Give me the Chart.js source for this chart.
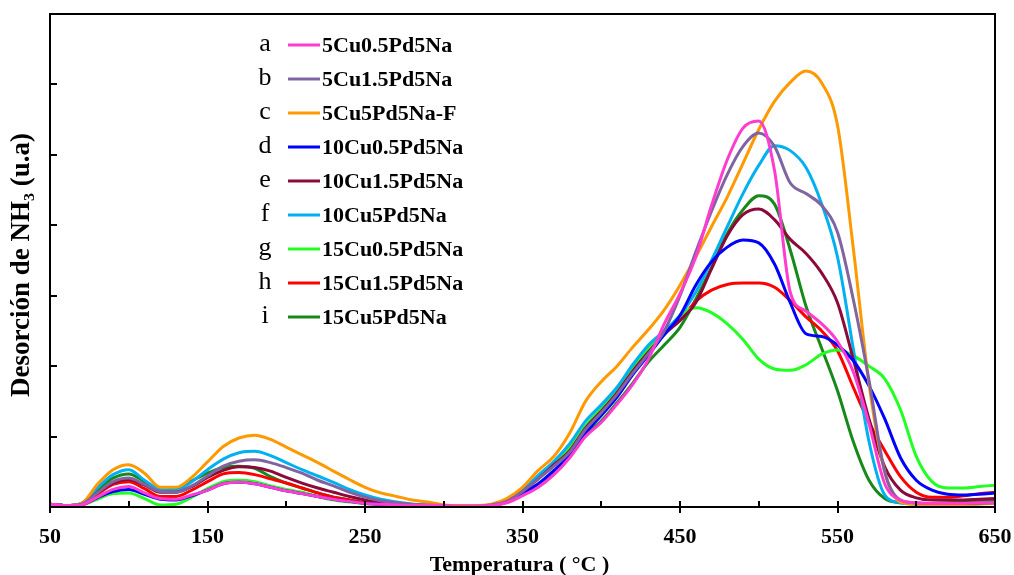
<!DOCTYPE html>
<html>
<head>
<meta charset="utf-8">
<script src="https://cdn.jsdelivr.net/npm/chart.js@4/dist/chart.umd.min.js"></script>
<style>
  html, body { margin: 0; padding: 0; background: #fff; }
  #wrap { width: 1014px; height: 575px; }
</style>
</head>
<body>
<div id="wrap"><canvas id="tpdChart" width="1014" height="575"></canvas></div>
<script>
// Temperature axis (°C)
const temps = [50,60,70,80,90,100,110,120,130,140,150,160,170,180,190,200,210,220,230,240,250,260,270,280,290,300,310,320,330,340,350,360,370,380,390,400,410,420,430,440,450,460,470,480,490,500,510,520,530,540,550,560,570,580,590,600,610,620,630,640,650];

const letters = ['a','b','c','d','e','f','g','h','i'];
const sampleNames = ['5Cu0.5Pd5Na','5Cu1.5Pd5Na','5Cu5Pd5Na-F','10Cu0.5Pd5Na','10Cu1.5Pd5Na','10Cu5Pd5Na','15Cu0.5Pd5Na','15Cu1.5Pd5Na','15Cu5Pd5Na'];
const lineColors = ['#ff3ccf','#8064a2','#ff9900','#0000ff','#8b0a3a','#00b0f0','#22ff22','#ff0000','#16891a'];

// NH3 desorption signal (u.a)
const s5Cu05 = [0.04,0.02,0.03,0.14,0.25,0.29,0.2,0.12,0.11,0.17,0.24,0.33,0.35,0.33,0.28,0.23,0.19,0.15,0.11,0.08,0.05,0.04,0.03,0.02,0.02,0.02,0.01,0.01,0.02,0.06,0.16,0.28,0.46,0.7,1.0,1.2,1.46,1.74,2.1,2.6,3.03,3.55,4.28,4.93,5.38,5.48,4.78,3.05,2.78,2.6,2.35,1.92,1.18,0.33,0.1,0.06,0.05,0.05,0.05,0.06,0.06];
const s5Cu15 = [0.04,0.02,0.04,0.2,0.36,0.41,0.32,0.22,0.21,0.3,0.44,0.58,0.65,0.67,0.63,0.56,0.48,0.38,0.3,0.21,0.14,0.09,0.06,0.04,0.03,0.02,0.01,0.01,0.03,0.08,0.22,0.4,0.58,0.78,1.1,1.34,1.6,1.9,2.18,2.5,3.0,3.62,4.2,4.72,5.12,5.31,5.12,4.6,4.45,4.28,3.9,2.95,1.8,0.5,0.1,0.06,0.05,0.05,0.05,0.05,0.06];
const s5Cu5F = [0.04,0.02,0.05,0.32,0.53,0.6,0.48,0.28,0.28,0.42,0.64,0.86,0.98,1.02,0.96,0.85,0.74,0.63,0.51,0.39,0.28,0.2,0.15,0.1,0.07,0.03,0.02,0.02,0.04,0.12,0.28,0.52,0.72,1.05,1.5,1.78,2.0,2.27,2.52,2.8,3.15,3.55,3.98,4.4,4.88,5.36,5.76,6.03,6.19,6.02,5.42,3.68,1.75,0.5,0.07,0.04,0.03,0.03,0.03,0.04,0.05];
const s10Cu05 = [0.04,0.02,0.03,0.13,0.22,0.25,0.18,0.11,0.1,0.16,0.24,0.33,0.35,0.33,0.28,0.23,0.19,0.15,0.11,0.08,0.05,0.04,0.03,0.02,0.02,0.02,0.01,0.01,0.02,0.07,0.19,0.33,0.52,0.74,1.05,1.3,1.56,1.88,2.16,2.45,2.72,3.15,3.48,3.69,3.79,3.75,3.45,2.9,2.46,2.42,2.3,2.08,1.72,1.25,0.7,0.38,0.24,0.18,0.17,0.18,0.2];
const s10Cu15 = [0.04,0.02,0.04,0.2,0.34,0.39,0.31,0.21,0.21,0.29,0.42,0.52,0.57,0.56,0.51,0.42,0.34,0.27,0.21,0.15,0.1,0.06,0.04,0.03,0.02,0.02,0.01,0.01,0.03,0.08,0.22,0.4,0.6,0.8,1.12,1.36,1.62,1.93,2.2,2.45,2.65,2.9,3.38,3.85,4.15,4.23,4.08,3.8,3.6,3.32,2.9,2.1,1.25,0.57,0.24,0.13,0.1,0.1,0.1,0.11,0.12];
const s10Cu5 = [0.04,0.02,0.05,0.27,0.46,0.53,0.38,0.25,0.24,0.36,0.53,0.68,0.77,0.79,0.73,0.63,0.53,0.44,0.35,0.25,0.17,0.11,0.07,0.04,0.03,0.02,0.01,0.01,0.03,0.1,0.24,0.45,0.65,0.9,1.22,1.45,1.7,2.02,2.3,2.5,2.72,3.05,3.5,3.98,4.45,4.85,5.13,5.06,4.82,4.3,3.55,2.25,0.93,0.17,0.06,0.04,0.04,0.04,0.05,0.05,0.06];
const s15Cu05 = [0.03,0.02,0.03,0.11,0.19,0.2,0.12,0.03,0.04,0.14,0.26,0.36,0.38,0.36,0.3,0.25,0.21,0.15,0.1,0.07,0.05,0.04,0.03,0.02,0.02,0.02,0.01,0.01,0.03,0.09,0.23,0.42,0.62,0.84,1.15,1.4,1.68,1.98,2.25,2.45,2.72,2.83,2.76,2.6,2.38,2.1,1.96,1.94,2.02,2.17,2.23,2.15,2.0,1.82,1.38,0.72,0.36,0.27,0.27,0.29,0.31];
const s15Cu15 = [0.04,0.02,0.04,0.18,0.32,0.36,0.26,0.15,0.15,0.24,0.36,0.47,0.49,0.46,0.4,0.34,0.27,0.2,0.14,0.1,0.06,0.04,0.03,0.02,0.02,0.02,0.01,0.01,0.03,0.09,0.23,0.42,0.62,0.84,1.14,1.38,1.64,1.95,2.24,2.5,2.65,2.92,3.08,3.16,3.18,3.18,3.12,2.93,2.7,2.5,2.22,1.7,1.2,0.8,0.43,0.21,0.14,0.14,0.16,0.19,0.21];
const s15Cu5 = [0.04,0.02,0.05,0.24,0.41,0.47,0.36,0.24,0.26,0.37,0.48,0.56,0.58,0.55,0.43,0.34,0.27,0.2,0.14,0.1,0.06,0.04,0.03,0.02,0.02,0.02,0.01,0.01,0.02,0.07,0.18,0.3,0.5,0.72,1.02,1.22,1.48,1.76,2.06,2.3,2.55,2.95,3.4,3.88,4.22,4.42,4.3,3.65,2.85,2.25,1.65,0.93,0.38,0.12,0.06,0.05,0.05,0.06,0.07,0.08,0.08];

const allSeries = [s5Cu05, s5Cu15, s5Cu5F, s10Cu05, s10Cu15, s10Cu5, s15Cu05, s15Cu15, s15Cu5];

const xTicks = [50,100,150,200,250,300,350,400,450,500,550,600,650];
const xLabels = [50,150,250,350,450,550,650];
const yTicks = [0,1,2,3,4,5,6,7];

const serif = '"Liberation Serif", "Times New Roman", serif';

const datasets = allSeries.map(function(vals, i) {
    return {
        label: sampleNames[i],
        data: temps.map(function(t, k) { return {x: t, y: vals[k]}; }),
        borderColor: lineColors[i],
        backgroundColor: lineColors[i],
        borderWidth: 3,
        pointRadius: 0,
        fill: false,
        cubicInterpolationMode: 'monotone'
    };
});

// frame, inward tick marks and axis titles
const framePlugin = {
    id: 'frame',
    afterDraw(chart) {
        const ctx = chart.ctx;
        const a = chart.chartArea;
        const xs = chart.scales.x, ys = chart.scales.y;
        ctx.save();
        ctx.strokeStyle = '#000';
        ctx.lineWidth = 2;
        ctx.strokeRect(a.left, a.top, a.right - a.left, a.bottom - a.top);
        ctx.beginPath();
        xTicks.forEach(function(v) {
            const px = Math.round(xs.getPixelForValue(v));
            ctx.moveTo(px, a.bottom - 6);
            ctx.lineTo(px, xLabels.indexOf(v) >= 0 ? a.bottom + 6 : a.bottom);
        });
        yTicks.forEach(function(v) {
            const py = Math.round(ys.getPixelForValue(v));
            ctx.moveTo(a.left, py);
            ctx.lineTo(a.left + 7, py);
        });
        ctx.stroke();

        ctx.fillStyle = '#000';
        ctx.textAlign = 'center';
        ctx.textBaseline = 'middle';
        ctx.font = 'bold 22px ' + serif;
        ctx.fillText('Temperatura ( °C )', (a.left + a.right) / 2 - 3, 565);

        ctx.translate(22, 265);
        ctx.rotate(-Math.PI / 2);
        ctx.font = 'bold 27px ' + serif;
        ctx.fillText('Desorción de NH₃ (u.a)', 0, 0);
        ctx.restore();
    }
};

// lettered legend
const letterLegend = {
    id: 'letterLegend',
    afterDraw(chart) {
        const ctx = chart.ctx;
        ctx.save();
        chart.data.datasets.forEach(function(ds, i) {
            const y = 45 + i * 34;
            ctx.fillStyle = '#000';
            ctx.textBaseline = 'alphabetic';
            ctx.textAlign = 'center';
            ctx.font = '26px ' + serif;
            ctx.fillText(letters[i], 265, y + 6);
            ctx.strokeStyle = ds.borderColor;
            ctx.lineWidth = 3;
            ctx.beginPath();
            ctx.moveTo(288, y);
            ctx.lineTo(320, y);
            ctx.stroke();
            ctx.textAlign = 'left';
            ctx.textBaseline = 'middle';
            ctx.font = 'bold 22px ' + serif;
            ctx.fillText(ds.label, 322, y + 1);
        });
        ctx.restore();
    }
};

new Chart(document.getElementById('tpdChart').getContext('2d'), {
    type: 'line',
    data: { datasets: datasets },
    options: {
        responsive: false,
        animation: false,
        layout: { padding: { left: 0, right: 19, top: 14, bottom: 0 } },
        plugins: {
            legend: { display: false },
            tooltip: { enabled: false }
        },
        scales: {
            x: {
                type: 'linear',
                min: 50,
                max: 650,
                afterBuildTicks: function(scale) {
                    scale.ticks = xTicks.map(function(v) { return {value: v}; });
                },
                afterFit: function(scale) {
                    scale.height = 68;
                    scale.paddingLeft = 0;
                    scale.paddingRight = 0;
                },
                grid: { display: false, drawTicks: false },
                border: { display: false },
                ticks: {
                    padding: 17,
                    color: '#000',
                    maxRotation: 0,
                    autoSkip: false,
                    font: { family: serif, size: 22, weight: 'bold' },
                    callback: function(v) { return xLabels.indexOf(v) >= 0 ? String(v) : ''; }
                }
            },
            y: {
                min: 0,
                max: 7,
                afterBuildTicks: function(scale) {
                    scale.ticks = yTicks.map(function(v) { return {value: v}; });
                },
                afterFit: function(scale) {
                    scale.width = 50;
                    scale.paddingTop = 0;
                    scale.paddingBottom = 0;
                },
                grid: { display: false, drawTicks: false },
                border: { display: false },
                ticks: { display: false }
            }
        }
    },
    plugins: [framePlugin, letterLegend]
});
</script>
</body>
</html>
